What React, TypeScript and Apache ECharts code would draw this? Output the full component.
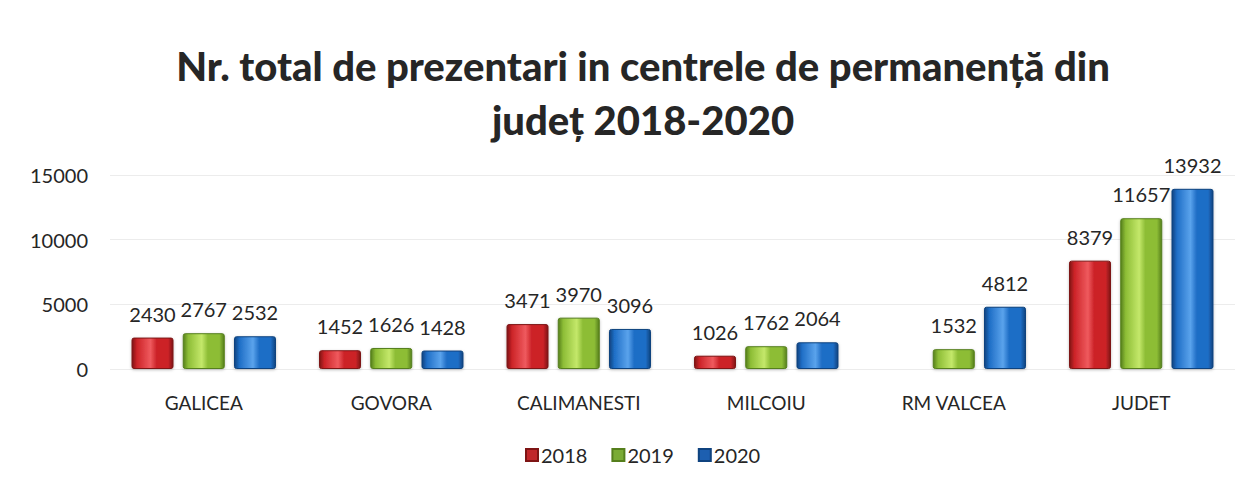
import React, { useEffect, useRef } from "react";
import * as echarts from "echarts";

const categories = ["GALICEA", "GOVORA", "CALIMANESTI", "MILCOIU", "RM VALCEA", "JUDET"];
const seriesNames = ["2018", "2019", "2020"];
const values2018: (number | null)[] = [2430, 1452, 3471, 1026, null, 8379];
const values2019: (number | null)[] = [2767, 1626, 3970, 1762, 1532, 11657];
const values2020: (number | null)[] = [2532, 1428, 3096, 2064, 4812, 13932];
const yTicks = { min: 0, max: 15000, interval: 5000 };

const palettes = [
  { dark: "#7e1414", main: "#cc2328", light: "#ef5a5e", legend: "#c0262a" },
  { dark: "#557f1c", main: "#8dbd36", light: "#c4e86a", legend: "#7aab34" },
  { dark: "#0f437f", main: "#1f6ec6", light: "#5aa3ec", legend: "#1d5fb0" },
];

function grad(p: { dark: string; main: string; light: string }) {
  return new echarts.graphic.LinearGradient(0, 0, 1, 0, [
    { offset: 0, color: p.dark },
    { offset: 0.12, color: p.main },
    { offset: 0.45, color: p.light },
    { offset: 0.6, color: p.main },
    { offset: 0.88, color: p.main },
    { offset: 1, color: p.dark },
  ]);
}

export default function App() {
  const ref = useRef<HTMLDivElement>(null);
  useEffect(() => {
    if (!ref.current) return;
    const chart = echarts.init(ref.current, null, { renderer: "svg" });
    const font = "Lato, 'Open Sans', sans-serif";
    const data = [values2018, values2019, values2020];
    chart.setOption({
      animation: false,
      backgroundColor: "#ffffff",
      title: {
        text: "Nr. total de prezentari in centrele de permanență din\njudeț 2018-2020",
        left: 638,
        textAlign: "center",
        top: 34,
        textStyle: {
          fontFamily: font,
          fontWeight: 900,
          fontSize: 40,
          lineHeight: 54,
          color: "#262626",
        },
      },
      legend: {
        bottom: 16,
        left: 520,
        itemWidth: 12,
        itemHeight: 12,
        itemGap: 24,
        icon: "rect",
        textStyle: { fontFamily: font, fontSize: 20, color: "#262626", padding: [0, 0, 0, -2] },
        data: seriesNames.map((n, i) => ({ name: n, itemStyle: { color: palettes[i].legend } })),
      },
      grid: { left: 110, right: 11, top: 175, bottom: 117, containLabel: false },
      xAxis: {
        type: "category",
        data: categories,
        axisLine: { show: false },
        axisTick: { show: false },
        axisLabel: { fontFamily: font, fontSize: 19, color: "#262626", margin: 24 },
      },
      yAxis: {
        type: "value",
        min: yTicks.min,
        max: yTicks.max,
        interval: yTicks.interval,
        axisLine: { show: false },
        axisTick: { show: false },
        splitLine: { lineStyle: { color: "#ececec", width: 1 } },
        axisLabel: {
          fontFamily: font,
          fontSize: 20,
          color: "#262626",
          margin: 22,
          formatter: (v: number) => String(v),
        },
      },
      series: seriesNames.map((n, i) => ({
        name: n,
        type: "bar",
        data: data[i],
        barWidth: 42,
        barGap: "22%",
        itemStyle: {
          color: grad(palettes[i]),
          borderColor: palettes[i].dark,
          borderWidth: 1,
          borderRadius: 2,
          shadowColor: "rgba(0,0,0,0.25)",
          shadowBlur: 3,
          shadowOffsetY: 1,
        },
        label: {
          show: true,
          position: "top",
          distance: 14,
          fontFamily: font,
          fontSize: 20,
          color: "#262626",
        },
      })),
    });
    return () => chart.dispose();
  }, []);
  return (
    <div
      ref={ref}
      style={{ position: "fixed", left: 0, top: 0, width: 1246, height: 486 }}
    />
  );
}
